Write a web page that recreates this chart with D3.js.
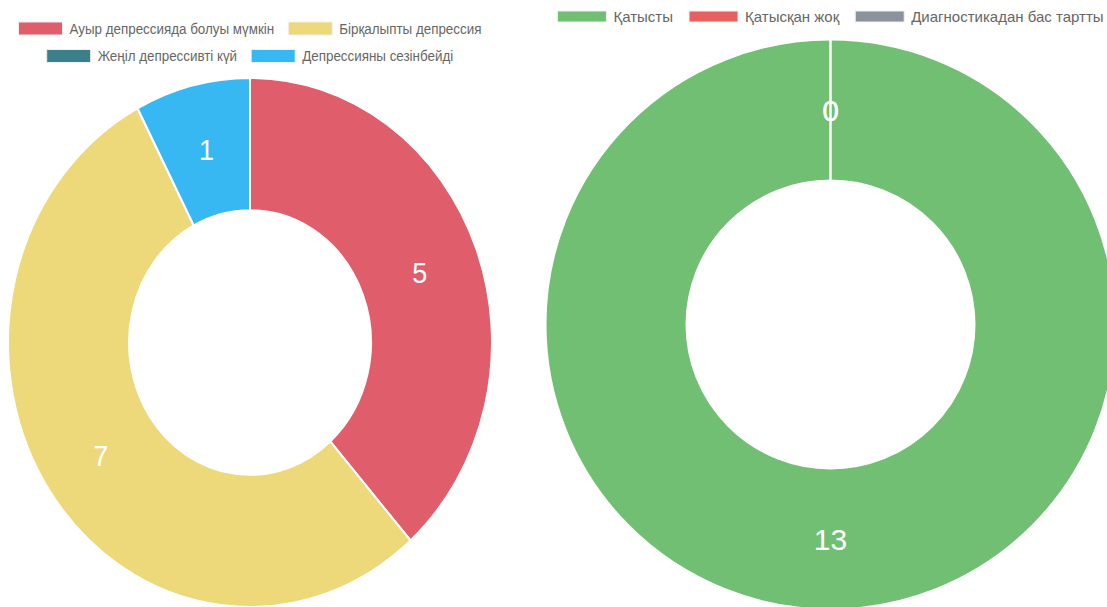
<!DOCTYPE html>
<html>
<head>
<meta charset="utf-8">
<script src="https://cdn.jsdelivr.net/npm/d3@7"></script>
<style>
  html, body { margin: 0; padding: 0; background: #fff; }
  svg { display: block; }
  text { font-family: "Liberation Sans", Arial, Helvetica, sans-serif; }
</style>
</head>
<body>
<svg id="chart" width="1107" height="607"></svg>
<script>
// ---- Data ----
const leftCategories = ["Ауыр депрессияда болуы мүмкін", "Бірқалыпты депрессия", "Жеңіл депрессивті күй", "Депрессияны сезінбейді"];
const leftValues = [5, 7, 0, 1];
const leftColors = ["#e05d6b", "#edd87a", "#3b8089", "#38b8f3"];

const rightCategories = ["Қатысты", "Қатысқан жоқ", "Диагностикадан бас тартты"];
const rightValues = [13, 0, 0];
const rightColors = ["#70bf73", "#e85f5f", "#8a939c"];

const svg = d3.select("#chart");

function drawDonut(cfg) {
  const data = cfg.categories.map((c, i) => ({ cat: c, value: cfg.values[i], color: cfg.colors[i] }));
  const pie = d3.pie().value(d => d.value).sort(null);
  const arcs = pie(data);
  const arc = d3.arc().innerRadius(cfg.rInner).outerRadius(cfg.rOuter);
  const labelArc = d3.arc().innerRadius((cfg.rInner + cfg.rOuter) / 2).outerRadius((cfg.rInner + cfg.rOuter) / 2);

  const g = svg.append("g").attr("transform", `translate(${cfg.cx},${cfg.cy}) scale(1,${cfg.sy})`);
  g.selectAll("path.slice").data(arcs).join("path")
    .attr("class", "slice")
    .attr("d", arc)
    .attr("fill", d => d.data.color)
    .attr("stroke", "#fff")
    .attr("stroke-width", 2)
    .attr("vector-effect", "non-scaling-stroke");

  const lg = svg.append("g").attr("transform", `translate(${cfg.cx},${cfg.cy})`);
  lg.selectAll("text.val").data(arcs.filter(d => cfg.showZero || d.data.value > 0)).join("text")
    .attr("class", "val")
    .attr("transform", d => `translate(${labelArc.centroid(d)[0]},${labelArc.centroid(d)[1] * cfg.sy}) scale(1,${cfg.sy})`)
    .attr("text-anchor", "middle")
    .attr("dominant-baseline", "central")
    .attr("fill", "#fff")
    .attr("font-size", cfg.labelSize)
    .text(d => d.data.value);

  // legend
  const lgd = svg.append("g");
  const tmp = lgd.append("text").attr("font-size", cfg.legendFont);
  const widths = data.map(d => { tmp.text(d.cat); return tmp.node().getComputedTextLength(); });
  tmp.remove();
  const itemW = widths.map(w => cfg.boxW + cfg.boxGap + w);
  const rows = [];
  let cur = [], curW = 0;
  itemW.forEach((w, i) => {
    const add = (cur.length ? cfg.itemGap : 0) + w;
    if (cur.length && curW + add > cfg.maxW) { rows.push({ items: cur, w: curW }); cur = []; curW = 0; }
    curW += (cur.length ? cfg.itemGap : 0) + w;
    cur.push(i);
  });
  if (cur.length) rows.push({ items: cur, w: curW });

  rows.forEach((row, ri) => {
    let x = cfg.cx - row.w / 2;
    const yc = cfg.legendY + ri * cfg.rowH;
    row.items.forEach(i => {
      lgd.append("rect")
        .attr("x", x).attr("y", yc - cfg.boxH / 2)
        .attr("width", cfg.boxW).attr("height", cfg.boxH)
        .attr("fill", data[i].color)
        .attr("stroke", "#f0f0f0").attr("stroke-width", 1);
      lgd.append("text")
        .attr("transform", `translate(${x + cfg.boxW + cfg.boxGap},${yc}) scale(1,${cfg.sy})`)
        .attr("dominant-baseline", "central")
        .attr("font-size", cfg.legendFont)
        .attr("fill", "#666")
        .text(data[i].cat);
      x += itemW[i] + cfg.itemGap;
    });
  });
}

drawDonut({
  categories: leftCategories, values: leftValues, colors: leftColors,
  cx: 250, cy: 342.5, rOuter: 242, rInner: 121, sy: 1.093,
  labelSize: 27, showZero: false,
  legendY: 28.5, rowH: 27.5, legendFont: 13.4, boxW: 44, boxH: 13, boxGap: 7, itemGap: 14, maxW: 490
});

drawDonut({
  categories: rightCategories, values: rightValues, colors: rightColors,
  cx: 830.5, cy: 324.5, rOuter: 285, rInner: 144, sy: 1,
  labelSize: 30, showZero: true,
  legendY: 16.5, rowH: 27, legendFont: 15, boxW: 49, boxH: 11, boxGap: 7, itemGap: 16, maxW: 600
});
</script>
</body>
</html>
